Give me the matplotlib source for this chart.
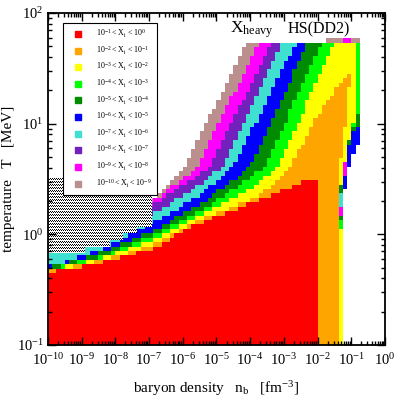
import numpy as np
import matplotlib
matplotlib.use("Agg")
import matplotlib.pyplot as plt
from matplotlib.colors import ListedColormap, BoundaryNorm
from matplotlib.ticker import LogLocator, NullFormatter
from matplotlib.lines import Line2D

plt.rcParams['font.family'] = 'Liberation Serif'
plt.rcParams['mathtext.default'] = 'regular'

# xmgrace colours for X_heavy > 10^-1 ... 10^-10
band_colors = ['#ff0000', '#ffa500', '#ffff00', '#00ff00', '#008b00',
               '#0000ff', '#40e0d0', '#7221bc', '#ff00ff', '#bc8f8f']
band_labels = [r'$10^{-%d} < X_i < 10^{%s}$' % (k, '0' if k == 1 else '-%d' % (k - 1))
               for k in range(1, 11)]

# lower density edge (log10 n) of region X_heavy > 10^-k, vs log10 T
red_T = [-1.1, -0.34, -0.258, -0.141, 0.103, 0.383, 0.464, 0.50, 0.52]
red_n = [-10.5, -10.0, -8.46, -7.0, -5.49, -3.12, -2.52, -2.3, 1.0]
orange_T = [-1.1, -0.331, -0.240, -0.105, 0.130, 0.311, 0.419, 0.609, 1.106, 1.413, 1.44, 1.45]
orange_n = [-10.5, -10.0, -8.46, -6.97, -5.49, -4.01, -3.41, -2.82, -1.93, -1.19, -1.04, 1.0]
yellow_T = [-1.1, -0.322, -0.222, -0.060, 0.175, 0.401, 0.609, 1.711]
yellow_n = [-10.5, -10.0, -8.46, -6.97, -5.49, -4.01, -3.21, -1.51]
lime_T = [-1.1, -0.313, -0.204, -0.023, 0.202, 0.383, 0.609, 1.711]
lime_n = [-10.5, -10.0, -8.46, -6.97, -5.49, -4.60, -3.56, -1.93]
green_T = [-1.1, -0.304, -0.168, 0.022, 0.266, 0.609, 1.711]
green_n = [-10.5, -10.0, -8.46, -6.97, -5.49, -4.01, -2.32]
blue_T = [-1.1, -0.294, -0.141, 0.085, 0.356, 0.609, 1.711]
blue_n = [-10.5, -10.0, -8.46, -6.97, -5.49, -4.51, -2.67]
cyan_T = [-1.1, -0.168, -0.096, 0.175, 0.383, 0.609, 1.711]
cyan_n = [-10.5, -10.0, -8.46, -6.97, -5.79, -4.84, -3.12]
purple_T = [-1.1, -0.141, -0.051, 0.311, 0.609, 1.711]
purple_n = [-10.5, -10.0, -8.46, -6.68, -5.19, -3.41]
magenta_T = [-1.1, -0.096, 0.311, 0.609, 1.711]
magenta_n = [-10.5, -10.0, -6.83, -5.55, -3.80]
brown_T = [-1.1, -0.051, 0.338, 0.609, 1.711]
brown_n = [-10.5, -10.0, -6.83, -5.94, -4.15]

# upper density edge (log10 n) of the same regions
red_hi_T = [-1.1, 0.52]
red_hi_n = [-1.99, -1.99]
orange_hi_T = [-1.1, 0.491, 0.790, 1.395, 1.45]
orange_hi_n = [-1.42, -1.42, -1.25, -1.04, -1.0]
yellow_hi_T = [-1.1, 0.491, 0.790, 1.097, 1.395, 1.75]
yellow_hi_n = [-1.28, -1.28, -1.10, -0.86, -0.86, -0.89]
lime_hi_T = [-1.1, 0.491, 0.790, 1.08, 1.11, 1.75]
lime_hi_n = [-1.28, -1.28, -1.10, -0.86, -0.74, -0.74]
green_hi_T = [-1.1, 0.491, 0.790, 0.97, 1.0, 1.75]
green_hi_n = [-1.28, -1.28, -1.10, -0.86, -0.74, -0.74]
rest_hi_T = [-1.1, 0.45, 0.55, 0.65, 0.79, 0.83, 1.75]
rest_hi_n = [-1.28, -1.28, -1.13, -1.0, -0.86, -0.74, -0.74]

# multicoloured cells at the high-density edge: log10 T range, log10 n range, class
fringe_T0 = [0.067, 0.112, 0.175, 0.266, 0.356, 0.40, 0.55]
fringe_T1 = [0.112, 0.175, 0.266, 0.356, 0.446, 0.55, 0.64]
fringe_n0 = [-1.36, -1.36, -1.36, -1.36, -1.36, -1.24, -1.24]
fringe_n1 = [-1.26, -1.26, -1.26, -1.26, -1.26, -1.13, -1.13]
fringe_k = [4, 5, 9, 7, 5, 6, 9]

# topmost temperature row of the table
top_row_T = (1.73, 1.77)
top_brown = (-1.72, -0.74)
top_magenta = (-1.19, -1.04)

# hatched low-density region: right edge (log10 n) from each log10 T up
hatch_T = [-0.168, -0.114, -0.051, 0.013, 0.067, 0.509]
hatch_n = [-8.9, -8.16, -7.78, -7.36, -6.91, -6.91]

lo_edges = [(red_T, red_n), (orange_T, orange_n), (yellow_T, yellow_n),
            (lime_T, lime_n), (green_T, green_n), (blue_T, blue_n),
            (cyan_T, cyan_n), (purple_T, purple_n), (magenta_T, magenta_n),
            (brown_T, brown_n)]
hi_edges = [(red_hi_T, red_hi_n), (orange_hi_T, orange_hi_n),
            (yellow_hi_T, yellow_hi_n), (lime_hi_T, lime_hi_n),
            (green_hi_T, green_hi_n)] + [(rest_hi_T, rest_hi_n)] * 5

# table grid
n_edges = np.linspace(-10, 0, 81)
T_edges = (1.77 - 0.04 * np.arange(71))[::-1]
nc = 0.5 * (n_edges[1:] + n_edges[:-1])
Tc = 0.5 * (T_edges[1:] + T_edges[:-1])
NN, TT = np.meshgrid(nc, Tc)

cls = np.full(NN.shape, 11)
main = TT < top_row_T[0]
for k in reversed(range(10)):
    lo = np.interp(TT, *lo_edges[k])
    hi = np.interp(TT, *hi_edges[k])
    cls[(NN >= lo) & (NN <= hi) & main] = k + 1
for t0, t1, n0, n1, k in zip(fringe_T0, fringe_T1, fringe_n0, fringe_n1, fringe_k):
    cls[(TT >= t0) & (TT < t1) & (NN > n0) & (NN < n1)] = k
top = TT > top_row_T[0]
cls[top & (NN >= top_brown[0]) & (NN <= top_brown[1])] = 10
cls[top & (NN >= top_magenta[0]) & (NN <= top_magenta[1])] = 9

fig = plt.figure(figsize=(3.99, 4.0), dpi=100)
ax = fig.add_axes([0.120, 0.1375, 0.845, 0.83])

cmap = ListedColormap(band_colors + ['white'])
norm = BoundaryNorm(np.arange(0.5, 12.0, 1.0), cmap.N)
ax.pcolormesh(10.0 ** n_edges, 10.0 ** T_edges, cls, cmap=cmap, norm=norm,
              shading='flat', antialiased=False, edgecolors='none')

ax.set_xscale('log')
ax.set_yscale('log')
ax.set_xlim(1e-10, 1)
ax.set_ylim(0.1, 100)

# hatched region: white polygon filled with a fine pixel pattern
poly = ax.fill_betweenx(10.0 ** np.array(hatch_T), 1e-10, 10.0 ** np.array(hatch_n),
                        step='post', facecolor='white', edgecolor='none')
rows = np.arange(332)[:, None]
cols = np.arange(338)[None, :]
dark = ((rows % 3 == 0) & (cols % 2 == 0)) | ((rows % 3 == 1) & (cols % 2 == 1))
pattern = np.where(dark, 0.0, 1.0)
im = ax.imshow(pattern, cmap='gray', vmin=0, vmax=1, extent=(0, 1, 0, 1),
               transform=ax.transAxes, interpolation='nearest', aspect='auto',
               zorder=poly.get_zorder() + 0.1)
im.set_clip_path(poly.get_paths()[0], transform=ax.transData)
ax.set_xlim(1e-10, 1)
ax.set_ylim(0.1, 100)

ax.xaxis.set_major_locator(LogLocator(base=10, numticks=20))
ax.xaxis.set_minor_locator(LogLocator(base=10, subs=np.arange(2, 10), numticks=200))
ax.xaxis.set_minor_formatter(NullFormatter())
ax.yaxis.set_major_locator(LogLocator(base=10, numticks=20))
ax.yaxis.set_minor_locator(LogLocator(base=10, subs=np.arange(2, 10), numticks=200))
ax.yaxis.set_minor_formatter(NullFormatter())
ax.tick_params(which='both', direction='in', top=True, right=True, width=1.0,
               labelsize=10.5)
ax.tick_params(which='major', length=6)
ax.tick_params(which='minor', length=3)
ax.tick_params(axis='x', pad=5)
ax.tick_params(axis='y', pad=3)
for s in ax.spines.values():
    s.set_linewidth(1.3)
    s.set_zorder(6)
ax.set_axisbelow(False)

ax.set_xlabel('baryon density   n$_b$   [fm$^{-3}$]', fontsize=11, labelpad=8)
ax.set_ylabel('temperature   T   [MeV]', fontsize=11, labelpad=1)

ax.text(0.54, 0.94, r'$X_{heavy}$', transform=ax.transAxes, fontsize=12.5)
ax.text(0.712, 0.94, 'HS(DD2)', transform=ax.transAxes, fontsize=11.5)

handles = [Line2D([], [], marker='s', ls='none', color=c, markersize=4)
           for c in band_colors]
leg = ax.legend(handles, band_labels, loc='upper left',
                bbox_to_anchor=(0.0445, 0.970), borderaxespad=0,
                fontsize=5.8, frameon=True, fancybox=False, framealpha=1,
                edgecolor='black', borderpad=0.6, handlelength=2.6,
                handletextpad=0.95, labelspacing=0.55)
leg.get_frame().set_linewidth(0.8)
leg.set_zorder(5)

fig.savefig('out.png', dpi=100)
